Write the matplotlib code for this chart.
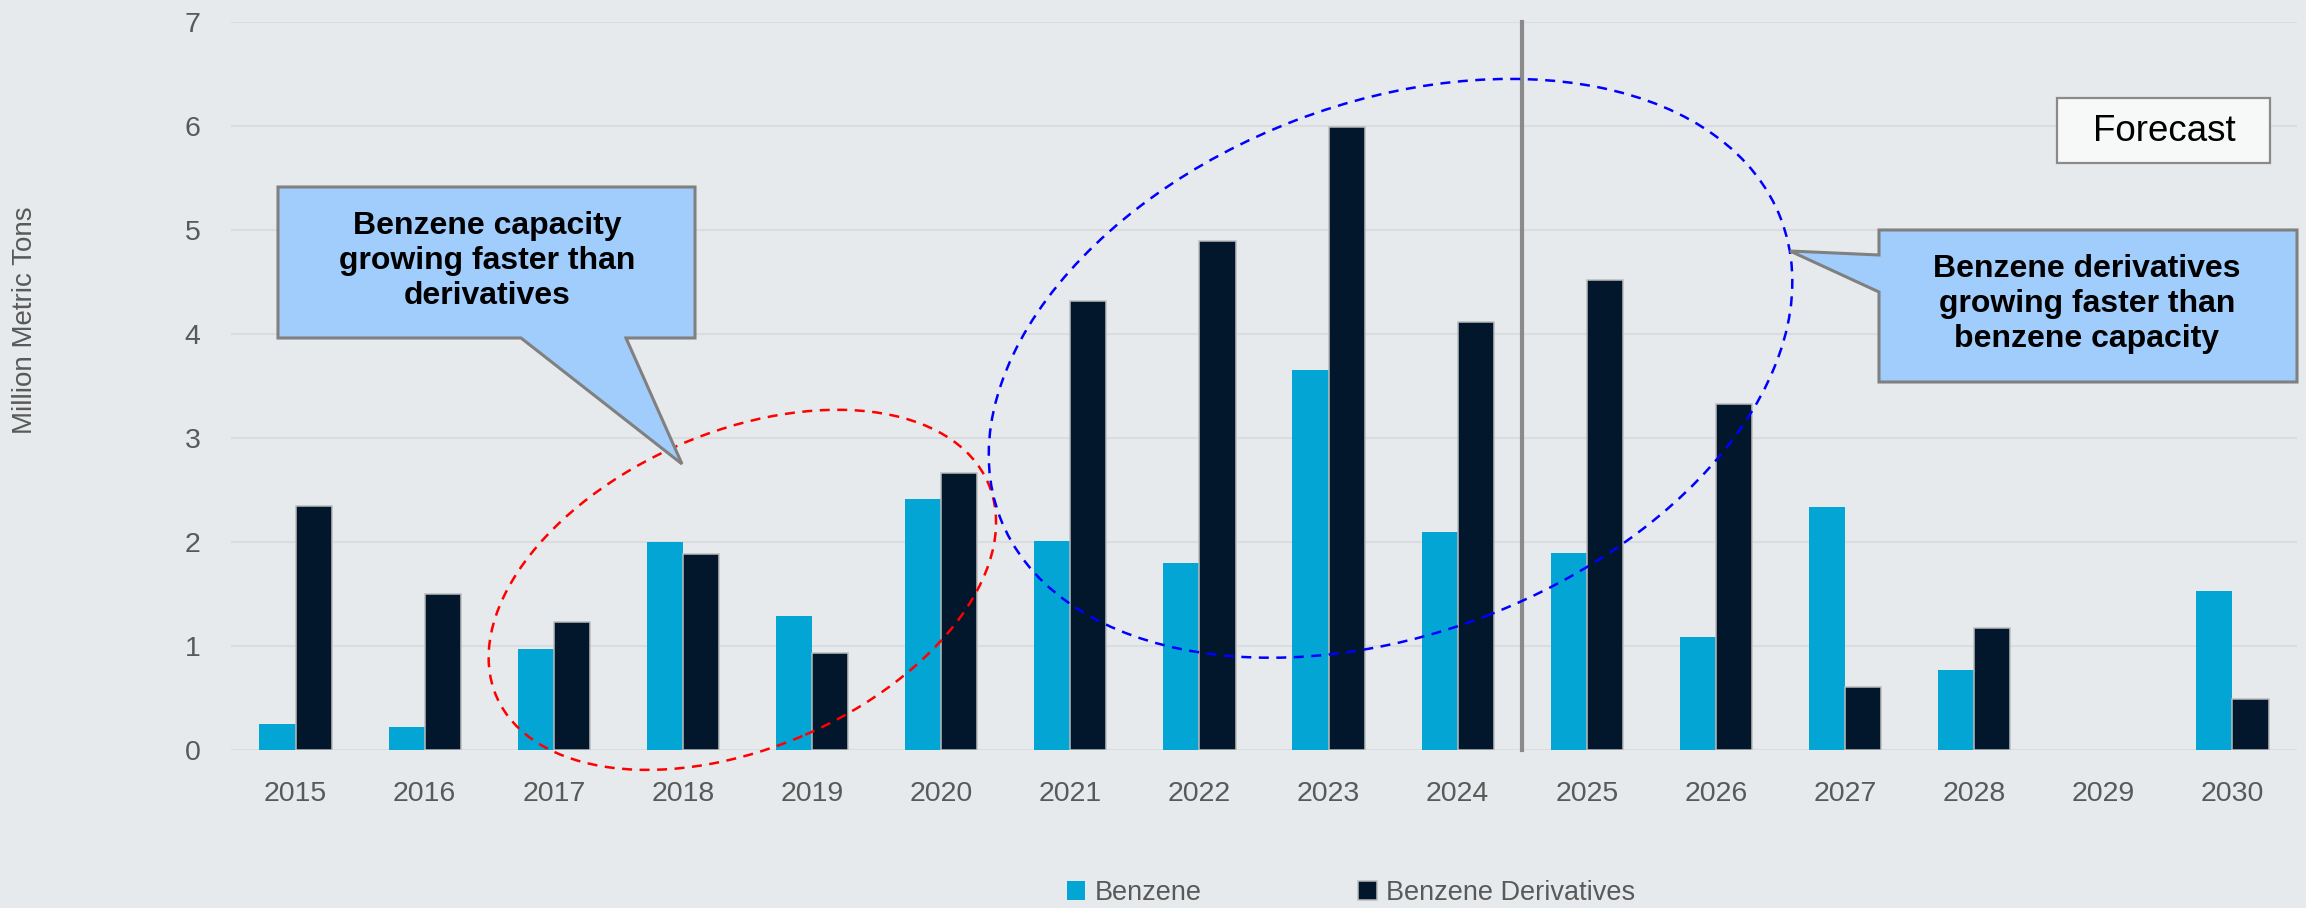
import matplotlib.pyplot as plt
import matplotlib.transforms as mtransforms
from matplotlib.patches import Ellipse, Polygon
import numpy as np

# benzene capacity additions vs. derivatives demand, million metric tons
years = ['2015', '2016', '2017', '2018', '2019', '2020', '2021', '2022',
         '2023', '2024', '2025', '2026', '2027', '2028', '2029', '2030']
benzene = [0.25, 0.22, 0.97, 2.00, 1.29, 2.41, 2.01, 1.80,
           3.65, 2.10, 1.89, 1.09, 2.34, 0.77, 0.0, 1.53]
derivatives = [2.35, 1.50, 1.23, 1.88, 0.93, 2.66, 4.32, 4.89,
               5.99, 4.12, 4.52, 3.33, 0.61, 1.17, 0.0, 0.49]

bg = '#e6eaed'
c_benz = '#03a5d5'
c_deriv = '#02172b'
txt = '#595959'
font = ['Liberation Sans', 'DejaVu Sans']
plt.rcParams['font.family'] = font

W, H, DPI = 2306, 908, 100
fig = plt.figure(figsize=(W / DPI, H / DPI), dpi=DPI, facecolor=bg)
ax = fig.add_axes([231 / W, 1 - 750 / H, (2297 - 231) / W, (750 - 22) / H])
ax.set_facecolor(bg)

x = np.arange(len(years))
bw = 0.28
ax.bar(x - bw / 2, benzene, bw, color=c_benz, edgecolor='none', label='Benzene', zorder=3)
# no outline on empty years
lw = [1.1 if v > 0 else 0 for v in derivatives]
ax.bar(x + bw / 2, derivatives, bw, color=c_deriv, edgecolor='#bcbcbc', linewidth=lw,
       label='Benzene Derivatives', zorder=3)

ax.set_xlim(-0.5, len(years) - 0.5)
ax.set_ylim(0, 7)
ax.set_yticks(range(8))
ax.set_xticks(x)
ax.set_xticklabels(years)
ax.tick_params(length=0, labelsize=20.5, colors=txt)
ax.tick_params(axis='x', pad=22)
ax.tick_params(axis='y', pad=22)
ax.yaxis.grid(True, color='#d9dde0', linewidth=1.5, zorder=0)
for s in ax.spines.values():
    s.set_visible(False)

fig.text(25 / W, 1 - 320 / H, 'Million Metric Tons', rotation=90, ha='center', va='center',
         fontsize=20, color=txt)

# forecast divider
ax.plot([9.5, 9.5], [0, 7], color='#8a8a8a', linewidth=3, zorder=4, clip_on=False)

# helper: shapes in pixel units anchored at a data point
def px_at(xd, yd):
    return mtransforms.Affine2D().scale(1 / DPI) + fig.dpi_scale_trans + \
        mtransforms.ScaledTranslation(xd, yd, ax.transData) - \
        mtransforms.ScaledTranslation(0, 0, fig.dpi_scale_trans)

def px_fig():
    # figure pixels, y measured from the top
    return mtransforms.Affine2D().scale(1, -1).translate(0, H).scale(1 / DPI) + fig.dpi_scale_trans

ax.add_patch(Ellipse((0, 0), 536, 316, angle=23.5, transform=px_at(3.46, 1.54),
                     fill=False, edgecolor='red', linestyle=(0, (4, 3)), linewidth=1.8,
                     zorder=6, clip_on=False))
ax.add_patch(Ellipse((0, 0), 836, 531, angle=20.9, transform=px_at(8.48, 3.67),
                     fill=False, edgecolor='blue', linestyle=(0, (4, 3)), linewidth=1.8,
                     zorder=6, clip_on=False))

callout_fill = '#a1cdfd'
left_box = [(278, 187), (695, 187), (695, 338), (626, 338), (682, 464), (521, 338), (278, 338)]
right_box = [(1879, 230), (2297, 230), (2297, 382), (1879, 382), (1879, 292), (1790, 251), (1879, 255)]
for pts in (left_box, right_box):
    fig.patches.append(Polygon(pts, closed=True, facecolor=callout_fill, edgecolor='#808080',
                               linewidth=2.2, transform=px_fig(), zorder=7))

fig.text(487 / W, 1 - 261 / H, 'Benzene capacity\ngrowing faster than\nderivatives',
         ha='center', va='center', fontsize=23, fontweight='bold', color='black',
         linespacing=1.2, zorder=8)
fig.text(2087 / W, 1 - 304 / H, 'Benzene derivatives\ngrowing faster than\nbenzene capacity',
         ha='center', va='center', fontsize=23, fontweight='bold', color='black',
         linespacing=1.2, zorder=8)

fig.patches.append(Polygon([(2057, 98), (2270, 98), (2270, 163), (2057, 163)], closed=True,
                           facecolor='#f7f8f8', edgecolor='#8a8a8a', linewidth=1.6,
                           transform=px_fig(), zorder=7))
fig.text(2164 / W, 1 - 131 / H, 'Forecast', ha='center', va='center', fontsize=26.5,
         color='black', zorder=8)

h, l = ax.get_legend_handles_labels()
fig.legend(h, l, loc='center', bbox_to_anchor=(1351 / W, 1 - 893 / H), ncol=2, frameon=False,
           fontsize=19.5, labelcolor=txt, handlelength=0.67, handleheight=0.67,
           handletextpad=0.33, columnspacing=5.8)

fig.savefig('out.png', dpi=DPI, facecolor=bg)
